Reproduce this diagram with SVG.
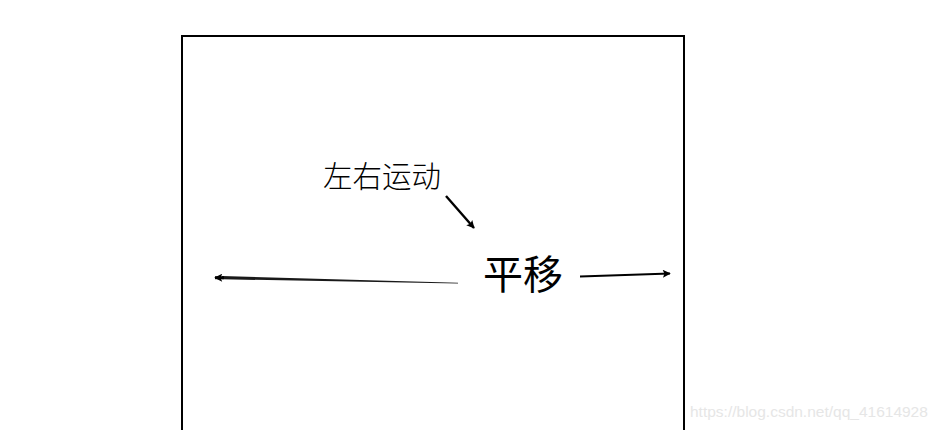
<svg xmlns="http://www.w3.org/2000/svg" width="942" height="430" viewBox="0 0 942 430">
<style>
.lbl{font-family:"Noto Sans CJK SC","Liberation Serif",serif;fill:#000}
.ln{stroke:#000;fill:none}
</style>
<defs>
<marker id="ah" viewBox="0 0 10 10" refX="9" refY="5" markerWidth="10" markerHeight="8" orient="auto" markerUnits="userSpaceOnUse">
<path d="M0,0 L10,5 L0,10 L2,5 Z" fill="#000"/>
</marker>
</defs>
<rect width="942" height="430" fill="#fff"/>
<g id="frame">
<rect x="182" y="36" width="502" height="420" fill="none" stroke="#000" stroke-width="2"/>
</g>
<g id="label-motion">
<text class="lbl" x="323" y="187" font-size="29.5" font-weight="300">左右运动</text>
</g>
<g id="label-translate">
<text class="lbl" x="483" y="289" font-size="40">平移</text>
</g>
<g id="connectors">
<line class="ln" x1="446" y1="196" x2="474" y2="228" stroke-width="2.4" marker-end="url(#ah)"/>
<path d="M458,283.5 L222,279.3 L222,276.1 L458,282.7 Z" fill="#000" opacity="0.9"/>
<line class="ln" x1="224" y1="277.7" x2="215" y2="277.7" stroke-width="3" marker-end="url(#ah)"/>
<line class="ln" x1="580" y1="276.5" x2="670" y2="273.5" stroke-width="2" marker-end="url(#ah)"/>
</g>
<text x="690" y="417" font-family="Liberation Sans, Arial, sans-serif" font-size="15.5" fill="#e6e6e6">https://blog.csdn.net/qq_41614928</text>
</svg>
